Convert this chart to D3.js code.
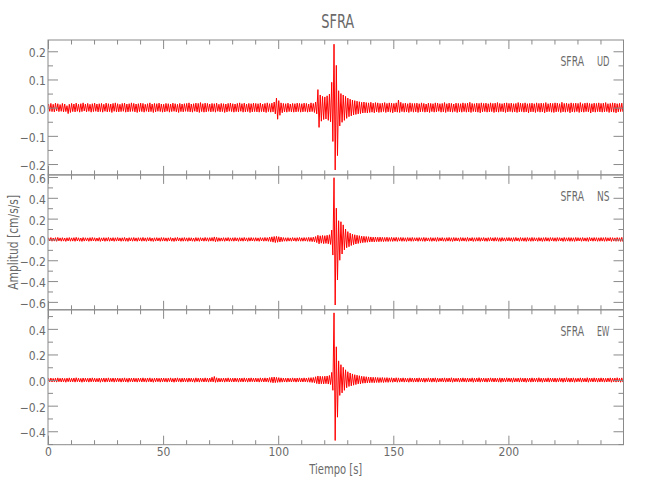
<!DOCTYPE html>
<html>
<head>
<meta charset="utf-8">
<script src="https://cdn.jsdelivr.net/npm/d3@7"></script>
<style>
  html, body { margin: 0; padding: 0; background: #fff; }
  svg { display: block; }
  text { font-family: "DejaVu Sans Condensed", "DejaVu Sans", sans-serif; font-stretch: condensed; fill: #6a6a6a; }
</style>
</head>
<body>
<svg id="chart" width="650" height="500"></svg>
<script>
// ---------- data (1 s bins: upper / lower excursion) ----------
const STATION = "SFRA";
const COMPONENTS = ["UD", "NS", "EW"];
const BIN_SECONDS = 1;
const X_RANGE = [0, 250];
const X_TICKS = [0, 50, 100, 150, 200];
const X_LABEL = "Tiempo  [s]";
const Y_LABEL = "Amplitud  [cm/s/s]";

const UD_RANGE = [-0.2385, 0.24];
const NS_RANGE = [-0.676, 0.62];
const EW_RANGE = [-0.505, 0.549];
const UD_TICKS = [-0.2, -0.1, 0, 0.1, 0.2];
const NS_TICKS = [-0.6, -0.4, -0.2, 0, 0.2, 0.4, 0.6];
const EW_TICKS = [-0.4, -0.2, 0, 0.2, 0.4];
const UD_MINOR_STEP = 0.05, NS_MINOR_STEP = 0.1, EW_MINOR_STEP = 0.1;

const UD_HIGH = [
.013,.015,.012,.016,.014,.011,.015,.013,.007,.012,
.015,.013,.016,.012,.014,.017,.013,.015,.012,.014,
.016,.013,.014,.015,.012,.016,.014,.013,.015,.017,
.014,.012,.015,.016,.013,.014,.017,.015,.013,.014,
.016,.015,.012,.014,.017,.013,.015,.014,.016,.013,
.012,.015,.014,.013,.016,.014,.012,.015,.013,.014,
.015,.017,.013,.014,.016,.015,.018,.014,.016,.015,
.013,.015,.014,.016,.012,.015,.014,.013,.015,.016,
.014,.013,.015,.017,.014,.016,.013,.015,.014,.016,
.015,.014,.016,.013,.015,.017,.014,.016,.020,.034,
.025,.017,.015,.014,.016,.013,.015,.014,.016,.015,
.014,.016,.015,.013,.017,.015,.020,.064,.045,.040,
.038,.042,.048,.090,.225,.150,.060,.050,.045,.040,
.034,.030,.027,.025,.023,.021,.019,.020,.018,.017,
.019,.016,.018,.017,.015,.016,.018,.015,.017,.016,
.015,.017,.027,.019,.015,.016,.014,.017,.015,.015,
.016,.014,.017,.015,.013,.016,.015,.014,.017,.016,
.014,.015,.018,.014,.016,.015,.013,.016,.015,.014,
.017,.015,.016,.019,.015,.014,.016,.015,.017,.015,
.016,.014,.017,.015,.016,.018,.015,.014,.016,.017,
.015,.016,.014,.015,.018,.016,.015,.017,.014,.015,
.016,.014,.017,.015,.016,.015,.018,.014,.016,.015,
.017,.016,.014,.019,.015,.016,.014,.017,.015,.016,
.015,.018,.014,.016,.017,.015,.014,.016,.015,.017,
.015,.016,.018,.014,.015,.017,.016,.014,.015,.016];

const UD_LOW = [
-.013,-.014,-.015,-.012,-.014,-.013,-.015,-.014,-.021,-.017,
-.014,-.015,-.013,-.016,-.014,-.012,-.015,-.013,-.016,-.014,
-.013,-.015,-.014,-.016,-.013,-.015,-.014,-.017,-.013,-.015,
-.015,-.014,-.013,-.016,-.015,-.014,-.013,-.015,-.017,-.014,
-.014,-.016,-.013,-.015,-.014,-.017,-.015,-.013,-.014,-.016,
-.015,-.013,-.016,-.014,-.013,-.015,-.017,-.014,-.015,-.013,
-.014,-.015,-.016,-.013,-.015,-.017,-.014,-.016,-.015,-.013,
-.015,-.014,-.016,-.013,-.015,-.014,-.017,-.015,-.013,-.014,
-.016,-.014,-.015,-.013,-.016,-.015,-.014,-.017,-.015,-.014,
-.015,-.016,-.014,-.015,-.017,-.014,-.016,-.015,-.022,-.041,
-.027,-.018,-.015,-.016,-.014,-.015,-.016,-.015,-.014,-.016,
-.015,-.014,-.016,-.015,-.014,-.017,-.022,-.070,-.048,-.042,
-.040,-.045,-.050,-.120,-.221,-.170,-.065,-.052,-.045,-.038,
-.032,-.029,-.026,-.024,-.022,-.021,-.019,-.018,-.019,-.017,
-.016,-.018,-.015,-.017,-.016,-.014,-.017,-.015,-.016,-.018,
-.015,-.016,-.017,-.014,-.016,-.015,-.017,-.014,-.016,-.015,
-.017,-.015,-.014,-.016,-.015,-.017,-.014,-.016,-.015,-.013,
-.016,-.015,-.017,-.014,-.015,-.016,-.014,-.017,-.015,-.016,
-.014,-.016,-.015,-.017,-.014,-.015,-.016,-.018,-.015,-.014,
-.016,-.015,-.014,-.017,-.015,-.016,-.014,-.015,-.017,-.015,
-.014,-.016,-.015,-.017,-.015,-.014,-.016,-.015,-.018,-.015,
-.015,-.017,-.014,-.016,-.015,-.018,-.015,-.014,-.016,-.017,
-.015,-.014,-.017,-.015,-.016,-.014,-.018,-.015,-.016,-.014,
-.017,-.015,-.016,-.014,-.015,-.019,-.015,-.016,-.014,-.015,
-.016,-.015,-.014,-.017,-.015,-.016,-.018,-.015,-.014,-.015];

const NS_HIGH = [
.016,.018,.014,.017,.019,.015,.017,.014,.016,.018,
.015,.017,.020,.016,.014,.018,.016,.015,.017,.019,
.016,.014,.018,.015,.017,.016,.019,.015,.017,.016,
.018,.015,.016,.019,.014,.017,.016,.018,.015,.017,
.016,.019,.015,.017,.018,.014,.016,.017,.015,.018,
.017,.015,.016,.018,.014,.017,.019,.015,.016,.018,
.015,.017,.016,.014,.018,.016,.017,.015,.019,.016,
.017,.018,.024,.020,.016,.015,.017,.016,.018,.015,
.016,.018,.015,.017,.016,.019,.015,.017,.018,.016,
.017,.015,.018,.016,.019,.017,.022,.025,.028,.030,
.026,.022,.018,.016,.017,.015,.018,.016,.017,.019,
.016,.018,.017,.020,.019,.022,.028,.040,.035,.038,
.036,.040,.045,.090,.593,.300,.180,.170,.140,.100,
.075,.060,.050,.045,.040,.036,.032,.030,.028,.026,
.024,.022,.023,.021,.022,.020,.019,.021,.018,.020,
.018,.020,.017,.019,.018,.016,.018,.017,.019,.016,
.017,.018,.016,.019,.017,.015,.018,.016,.017,.019,
.016,.018,.015,.017,.019,.016,.018,.017,.015,.018,
.017,.016,.019,.015,.018,.016,.017,.019,.016,.018,
.015,.017,.018,.016,.019,.017,.016,.018,.015,.017,
.018,.016,.017,.019,.015,.018,.016,.017,.018,.016,
.019,.017,.015,.018,.016,.017,.019,.016,.018,.017,
.016,.018,.017,.015,.019,.016,.018,.017,.016,.019,
.017,.016,.018,.015,.017,.019,.016,.018,.017,.016,
.018,.017,.019,.016,.018,.017,.015,.018,.016,.020];

const NS_LOW = [
-.015,-.017,-.016,-.018,-.014,-.017,-.016,-.019,-.015,-.017,
-.016,-.018,-.015,-.017,-.019,-.016,-.014,-.018,-.016,-.015,
-.017,-.016,-.019,-.015,-.018,-.016,-.017,-.015,-.018,-.016,
-.015,-.018,-.016,-.017,-.019,-.015,-.017,-.016,-.018,-.015,
-.017,-.016,-.018,-.015,-.017,-.019,-.016,-.015,-.018,-.016,
-.016,-.018,-.015,-.017,-.019,-.016,-.015,-.018,-.017,-.016,
-.018,-.015,-.017,-.019,-.016,-.018,-.015,-.017,-.016,-.018,
-.016,-.017,-.022,-.019,-.017,-.016,-.018,-.015,-.017,-.016,
-.017,-.015,-.018,-.016,-.017,-.015,-.018,-.016,-.015,-.017,
-.016,-.018,-.015,-.017,-.016,-.018,-.021,-.026,-.030,-.027,
-.024,-.020,-.017,-.018,-.016,-.017,-.015,-.018,-.016,-.017,
-.017,-.016,-.018,-.019,-.021,-.023,-.030,-.042,-.036,-.040,
-.038,-.042,-.048,-.150,-.630,-.390,-.200,-.140,-.100,-.080,
-.070,-.058,-.050,-.044,-.039,-.035,-.031,-.029,-.027,-.025,
-.023,-.024,-.021,-.022,-.020,-.021,-.019,-.020,-.018,-.019,
-.017,-.019,-.016,-.018,-.017,-.019,-.016,-.018,-.017,-.015,
-.018,-.016,-.017,-.019,-.015,-.017,-.018,-.016,-.019,-.017,
-.015,-.017,-.018,-.016,-.017,-.019,-.016,-.015,-.018,-.016,
-.016,-.018,-.017,-.015,-.019,-.017,-.016,-.018,-.015,-.017,
-.018,-.016,-.015,-.017,-.016,-.018,-.019,-.016,-.017,-.015,
-.016,-.019,-.017,-.015,-.018,-.016,-.017,-.019,-.016,-.018,
-.017,-.015,-.018,-.016,-.019,-.017,-.016,-.018,-.015,-.017,
-.018,-.016,-.015,-.019,-.017,-.016,-.018,-.017,-.019,-.016,
-.015,-.018,-.016,-.017,-.019,-.015,-.017,-.016,-.018,-.017,
-.016,-.018,-.017,-.015,-.019,-.016,-.018,-.017,-.019,-.022];

const EW_HIGH = [
.014,.016,.013,.015,.017,.014,.016,.013,.015,.017,
.014,.016,.018,.015,.013,.016,.015,.014,.016,.017,
.015,.013,.016,.014,.016,.015,.017,.014,.016,.015,
.016,.014,.015,.017,.013,.016,.015,.016,.014,.016,
.015,.017,.014,.016,.017,.013,.015,.016,.014,.016,
.016,.014,.015,.017,.013,.016,.017,.014,.015,.016,
.014,.016,.015,.013,.017,.015,.016,.014,.017,.015,
.016,.022,.028,.018,.015,.014,.016,.015,.017,.014,
.015,.016,.014,.016,.015,.017,.014,.016,.017,.015,
.016,.014,.017,.015,.017,.016,.019,.022,.024,.021,
.019,.017,.016,.015,.016,.014,.017,.015,.016,.017,
.015,.017,.016,.018,.019,.020,.026,.032,.030,.028,
.030,.032,.036,.060,.525,.260,.150,.120,.100,.080,
.065,.055,.048,.042,.038,.034,.030,.028,.026,.024,
.023,.022,.021,.020,.019,.020,.018,.019,.017,.018,
.016,.018,.017,.015,.017,.016,.014,.017,.016,.015,
.016,.017,.015,.016,.014,.017,.015,.016,.017,.015,
.014,.016,.017,.015,.016,.018,.015,.014,.016,.015,
.017,.015,.016,.014,.017,.015,.016,.018,.015,.016,
.014,.016,.017,.015,.016,.014,.017,.016,.015,.017,
.016,.015,.017,.014,.016,.017,.015,.016,.014,.016,
.017,.015,.016,.018,.015,.016,.014,.017,.016,.015,
.016,.014,.017,.015,.016,.018,.015,.016,.017,.014,
.015,.017,.016,.014,.018,.016,.015,.017,.016,.015,
.017,.016,.014,.016,.017,.015,.016,.018,.015,.017];

const EW_LOW = [
-.013,-.015,-.014,-.016,-.013,-.015,-.014,-.017,-.013,-.015,
-.014,-.016,-.013,-.015,-.017,-.014,-.013,-.016,-.014,-.013,
-.015,-.014,-.017,-.013,-.016,-.014,-.015,-.013,-.016,-.014,
-.013,-.016,-.014,-.015,-.017,-.013,-.015,-.014,-.016,-.013,
-.015,-.014,-.016,-.013,-.015,-.017,-.014,-.013,-.016,-.014,
-.014,-.016,-.013,-.015,-.017,-.014,-.013,-.016,-.015,-.014,
-.016,-.013,-.015,-.017,-.014,-.016,-.013,-.015,-.014,-.016,
-.014,-.015,-.018,-.016,-.015,-.014,-.016,-.013,-.015,-.014,
-.015,-.013,-.016,-.014,-.015,-.013,-.016,-.014,-.013,-.015,
-.014,-.016,-.013,-.015,-.014,-.016,-.018,-.021,-.020,-.018,
-.017,-.016,-.015,-.016,-.014,-.015,-.013,-.016,-.014,-.015,
-.015,-.014,-.016,-.017,-.019,-.021,-.027,-.031,-.029,-.030,
-.028,-.031,-.035,-.080,-.472,-.290,-.120,-.100,-.080,-.060,
-.050,-.045,-.040,-.035,-.030,-.030,-.025,-.024,-.022,-.021,
-.020,-.021,-.019,-.020,-.018,-.019,-.017,-.018,-.016,-.017,
-.015,-.017,-.016,-.014,-.016,-.015,-.017,-.014,-.016,-.015,
-.016,-.014,-.015,-.017,-.013,-.015,-.016,-.014,-.017,-.015,
-.013,-.015,-.016,-.014,-.015,-.017,-.014,-.013,-.016,-.014,
-.014,-.016,-.015,-.013,-.017,-.015,-.014,-.016,-.013,-.015,
-.016,-.014,-.013,-.015,-.014,-.016,-.017,-.014,-.015,-.013,
-.014,-.017,-.015,-.013,-.016,-.014,-.015,-.017,-.014,-.016,
-.015,-.013,-.016,-.014,-.017,-.015,-.014,-.016,-.013,-.015,
-.016,-.014,-.013,-.017,-.015,-.014,-.016,-.015,-.017,-.014,
-.013,-.016,-.014,-.015,-.017,-.013,-.015,-.014,-.016,-.015,
-.014,-.016,-.015,-.013,-.017,-.014,-.016,-.015,-.017,-.016];

// ---------- layout ----------
const plotL = 48, plotR = 623.5, plotT = 40, plotB = 444.7;
const panelH = (plotB - plotT) / 3;
const axisColor = "#8a8a8a";
const textColor = "#6a6a6a";

const svg = d3.select("#chart");
const x = d3.scaleLinear().domain(X_RANGE).range([plotL, plotR]);

const panels = [
  { comp: COMPONENTS[0], high: UD_HIGH, low: UD_LOW, range: UD_RANGE, ticks: UD_TICKS, minor: UD_MINOR_STEP },
  { comp: COMPONENTS[1], high: NS_HIGH, low: NS_LOW, range: NS_RANGE, ticks: NS_TICKS, minor: NS_MINOR_STEP },
  { comp: COMPONENTS[2], high: EW_HIGH, low: EW_LOW, range: EW_RANGE, ticks: EW_TICKS, minor: EW_MINOR_STEP }
];

const fmt = d3.format(".1f");
const xMinor = d3.range(X_RANGE[0], X_RANGE[1] + 0.001, 10).filter(v => v % 50 !== 0);

panels.forEach((p, i) => {
  const y0 = plotT + i * panelH, y1 = y0 + panelH;
  const y = d3.scaleLinear().domain(p.range).range([y1, y0]);
  const g = svg.append("g");

  const cid = "clip" + i;
  svg.append("clipPath").attr("id", cid).append("rect")
    .attr("x", plotL).attr("y", y0).attr("width", plotR - plotL).attr("height", panelH);

  // trace: zigzag between upper and lower excursion of each bin
  const pts = [];
  p.high.forEach((h, k) => {
    pts.push([X_RANGE[0] + (k + 0.25) * BIN_SECONDS, h]);
    pts.push([X_RANGE[0] + (k + 0.75) * BIN_SECONDS, p.low[k]]);
  });
  g.append("path")
    .datum(pts)
    .attr("clip-path", `url(#${cid})`)
    .attr("fill", "none")
    .attr("stroke", "#ff0000")
    .attr("stroke-width", 1)
    .attr("stroke-linejoin", "round")
    .attr("d", d3.line().x(d => x(d[0])).y(d => y(d[1])));

  const lo = Math.ceil(p.range[0] / p.minor - 1e-6), hi = Math.floor(p.range[1] / p.minor + 1e-6);
  const yMinor = d3.range(lo, hi + 1).map(k => +(k * p.minor).toFixed(3))
    .filter(v => !p.ticks.some(t => Math.abs(t - v) < 1e-6));

  const styleAxis = sel => {
    sel.select(".domain").remove();
    sel.selectAll("line").attr("stroke", axisColor);
    sel.selectAll("text").attr("fill", textColor).style("font-size", "12px");
  };

  svg.append("g").attr("transform", `translate(${plotL},0)`)
    .call(d3.axisLeft(y).tickValues(p.ticks).tickFormat(fmt).tickSize(-10).tickPadding(2))
    .call(styleAxis)
    .call(s => s.selectAll("text").attr("dy", "0.45em").attr("x", -2));
  svg.append("g").attr("transform", `translate(${plotL},0)`)
    .call(d3.axisLeft(y).tickValues(yMinor).tickFormat("").tickSize(-5))
    .call(styleAxis);
  svg.append("g").attr("transform", `translate(${plotR},0)`)
    .call(d3.axisRight(y).tickValues(p.ticks).tickFormat("").tickSize(-10))
    .call(styleAxis);
  svg.append("g").attr("transform", `translate(${plotR},0)`)
    .call(d3.axisRight(y).tickValues(yMinor).tickFormat("").tickSize(-5))
    .call(styleAxis);
  svg.append("g").attr("transform", `translate(0,${y0})`)
    .call(d3.axisTop(x).tickValues(X_TICKS).tickFormat("").tickSize(-9))
    .call(styleAxis);
  svg.append("g").attr("transform", `translate(0,${y0})`)
    .call(d3.axisTop(x).tickValues(xMinor).tickFormat("").tickSize(-4.5))
    .call(styleAxis);
  svg.append("g").attr("transform", `translate(0,${y1})`)
    .call(d3.axisBottom(x).tickValues(X_TICKS).tickFormat(i === 2 ? d3.format("d") : "").tickSize(-9).tickPadding(3))
    .call(styleAxis);
  svg.append("g").attr("transform", `translate(0,${y1})`)
    .call(d3.axisBottom(x).tickValues(xMinor).tickFormat("").tickSize(-4.5))
    .call(styleAxis);

  svg.append("rect")
    .attr("x", plotL).attr("y", y0).attr("width", plotR - plotL).attr("height", panelH)
    .attr("fill", "none").attr("stroke", axisColor).attr("stroke-width", 1);

  svg.append("text").attr("x", 560.5).attr("y", y0 + 26)
    .attr("textLength", 23.5).attr("lengthAdjust", "spacingAndGlyphs")
    .style("font-size", "14px").attr("fill", textColor).text(STATION);
  svg.append("text").attr("x", 597).attr("y", y0 + 26)
    .attr("textLength", 12.5).attr("lengthAdjust", "spacingAndGlyphs")
    .style("font-size", "14px").attr("fill", textColor).text(p.comp);
});

svg.append("text").attr("x", (plotL + plotR) / 2 + 2).attr("y", 28)
  .attr("text-anchor", "middle")
  .attr("textLength", 33).attr("lengthAdjust", "spacingAndGlyphs")
  .style("font-size", "20px").attr("fill", textColor).text(STATION);

svg.append("text").attr("x", (plotL + plotR) / 2).attr("y", 474)
  .attr("text-anchor", "middle")
  .attr("textLength", 53).attr("lengthAdjust", "spacingAndGlyphs")
  .style("font-size", "14px").attr("fill", textColor).text(X_LABEL);

svg.append("text")
  .attr("transform", `translate(17.5,${(plotT + plotB) / 2}) rotate(-90)`)
  .attr("text-anchor", "middle")
  .attr("textLength", 95).attr("lengthAdjust", "spacingAndGlyphs")
  .style("font-size", "14px").attr("fill", textColor).text(Y_LABEL);
</script>
</body>
</html>
